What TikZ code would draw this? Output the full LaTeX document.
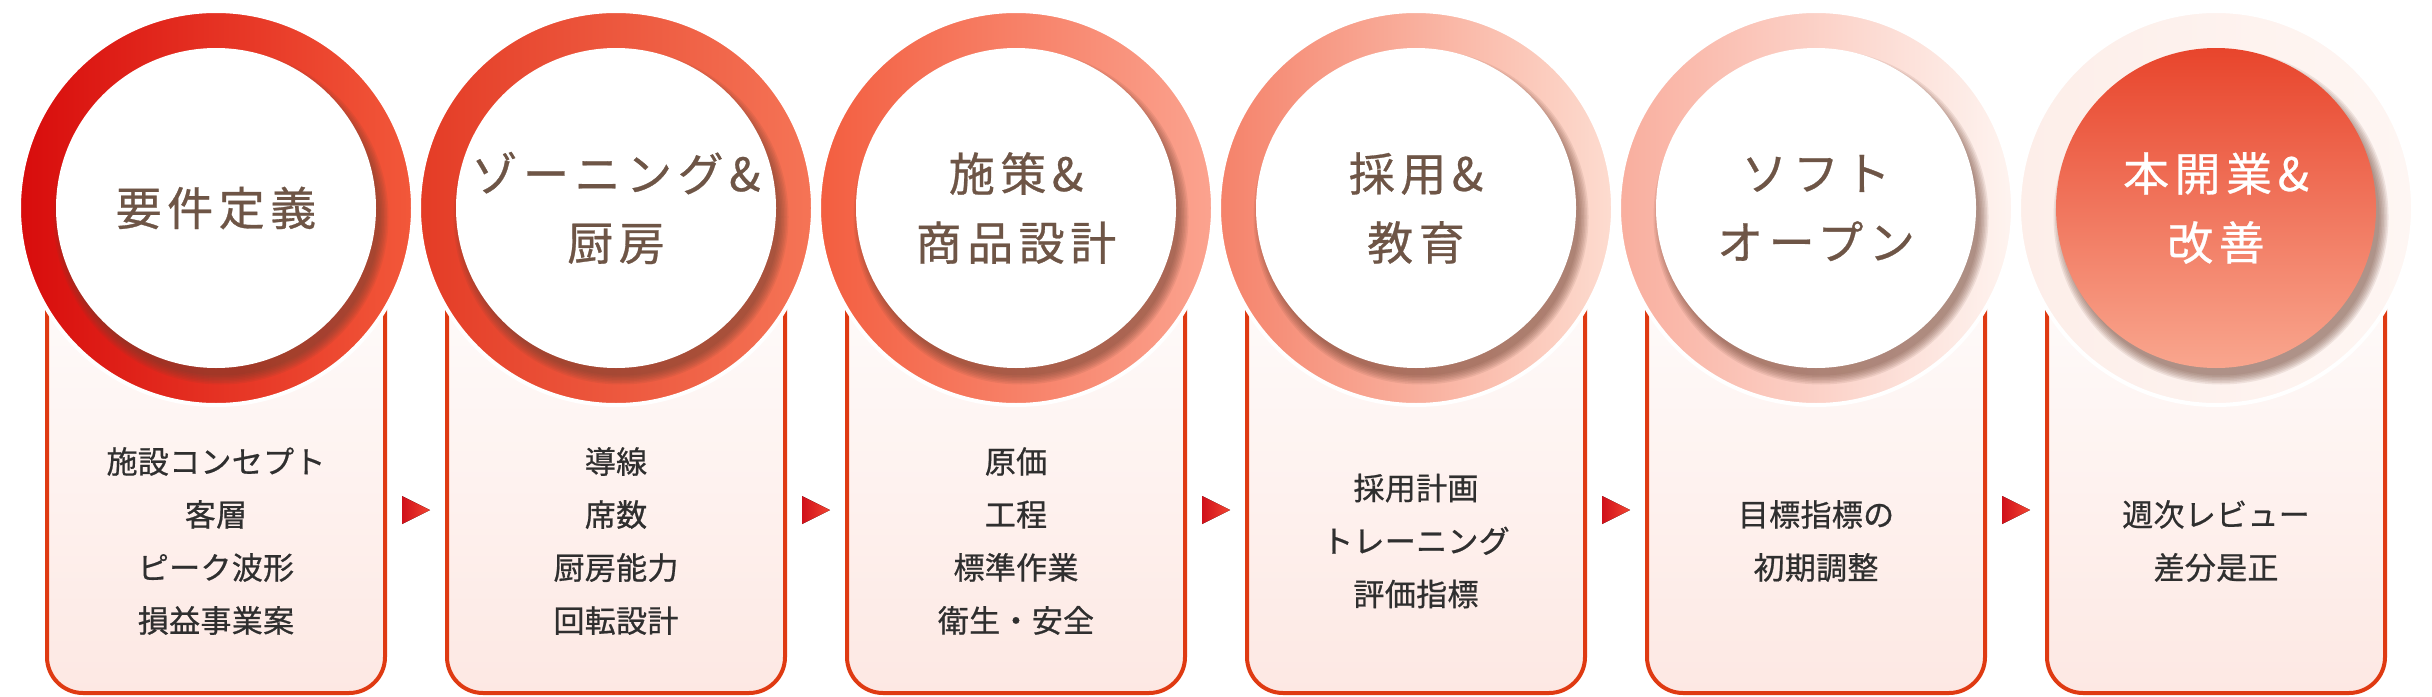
\documentclass[tikz,border=0pt]{standalone}
\usepackage{fontspec}
\setmainfont{Noto Sans CJK JP}
\newfontfamily\titlefont[LetterSpace=12, FakeBold=0.6]{Noto Sans CJK JP}
\newfontfamily\itemfont[LetterSpace=1, FakeBold=0.7]{Noto Sans CJK JP}
\usetikzlibrary{positioning}
\definecolor{ringL1}{HTML}{D80C0C}\definecolor{ringR1}{HTML}{F2583A}
\definecolor{ringL2}{HTML}{E43C26}\definecolor{ringR2}{HTML}{F57456}
\definecolor{ringL3}{HTML}{F35E40}\definecolor{ringR3}{HTML}{FBA38F}
\definecolor{ringL4}{HTML}{F5826A}\definecolor{ringR4}{HTML}{FDDCD0}
\definecolor{ringL5}{HTML}{F9AE9E}\definecolor{ringR5}{HTML}{FEF4F0}
\definecolor{ringL6}{HTML}{FDEEE9}\definecolor{ringR6}{HTML}{FEF6F3}
\definecolor{hotA}{HTML}{E8452C}
\definecolor{hotB}{HTML}{F9A68E}
\definecolor{boxline}{HTML}{DF3A12}
\definecolor{boxfill}{HTML}{FDE8E3}
\definecolor{titlebrown}{HTML}{6E5546}
\definecolor{itemgray}{HTML}{2F2F2F}
\definecolor{glowpink}{HTML}{E9C2BE}
\definecolor{shadowbrown}{HTML}{6B4030}
\definecolor{arrowA}{HTML}{D0101A}
\definecolor{arrowB}{HTML}{F24432}

\begin{document}
\begin{tikzpicture}[x=1pt,y=-1pt,
  stepbox/.style={draw=boxline, line width=4pt, rounded corners=36pt,
    top color=white, bottom color=boxfill,
    minimum width=338pt, minimum height=485pt, inner sep=0pt},
  ring/.style={circle, minimum size=394pt, inner sep=0pt, draw=white, line width=4pt},
  disc/.style={circle, minimum size=320pt, inner sep=0pt, fill=white},
  hotdisc/.style={circle, minimum size=320pt, inner sep=0pt, top color=hotA, bottom color=hotB},
  title/.style={text=titlebrown, font=\titlefont\fontsize{46}{69}\selectfont, align=center},
  hottitle/.style={title, text=white},
  items/.style={text=itemgray, font=\itemfont\fontsize{31}{53}\selectfont, align=center}]
\useasboundingbox (0,0) rectangle (2432,696);

% boxes
\foreach \i/\x/\list in {1/216/{施設コンセプト\\客層\\ピーク波形\\損益事業案},
    2/616/{導線\\席数\\厨房能力\\回転設計},
    3/1016/{原価\\工程\\標準作業\\衛生・安全},
    4/1416/{採用計画\\トレーニング\\評価指標},
    5/1816/{目標指標の\\初期調整},
    6/2216/{週次レビュー\\差分是正}} {
  \node (box\i) [stepbox] at (\x,450.5) {};
  \node (items\i) [items] at (\x,541) {\list};
}

% arrows
\foreach \x in {416,816,1216,1616,2016}
  \fill[left color=arrowA, right color=arrowB] ({\x-14},496) -- ({\x+14},510) -- ({\x-14},524) -- cycle;

% glow
\foreach \x in {216,616,1016,1416,1816,2216}
  \foreach \k [evaluate=\k as \r using 199+2*\k] in {1,...,8}
    \fill[glowpink, opacity=0.07] (\x,212) circle[radius=\r pt];

% circles
\foreach \i/\x/\s/\t/\name in {1/216/disc/title/{要件定義},
    2/616/disc/title/{ゾーニング\&\\厨房},
    3/1016/disc/title/{施策\&\\商品設計},
    4/1416/disc/title/{採用\&\\教育},
    5/1816/disc/title/{ソフト\\オープン},
    6/2216/hotdisc/hottitle/{本開業\&\\改善}} {
  \node (ring\i) [ring, left color=ringL\i, right color=ringR\i] at (\x,208) {};
  \foreach \k [evaluate=\k as \r using 157+1.5*\k] in {1,...,7}
    \fill[shadowbrown, opacity=0.1] ({\x+5},217) circle[radius=\r pt];
  \node (disc\i) [\s] at (ring\i) {};
  \node (title\i) [\t] at (disc\i) {\name};
}
\end{tikzpicture}
\end{document}
